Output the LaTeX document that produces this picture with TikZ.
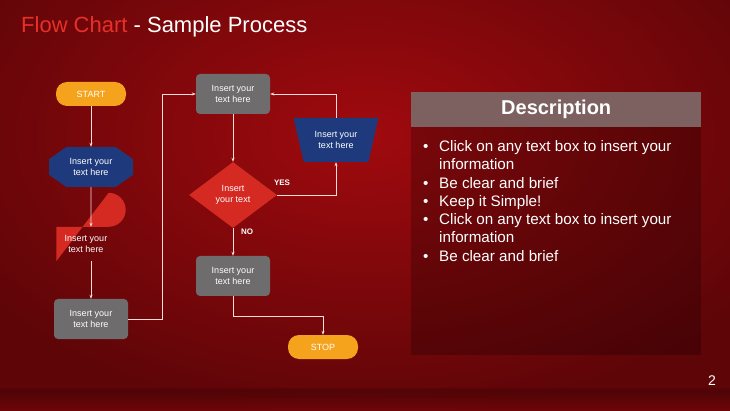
\documentclass[tikz,border=0pt]{standalone}
\usepackage{fontspec}
\setmainfont{Liberation Sans}
\usetikzlibrary{shapes.geometric,shapes.misc,arrows.meta}
\definecolor{bgdark}{HTML}{5E0508}
\definecolor{bgmid}{HTML}{A00A0E}
\definecolor{orng}{HTML}{F5A21C}
\definecolor{navy}{HTML}{1E3A7C}
\definecolor{rd}{HTML}{D42A22}
\definecolor{gry}{HTML}{6E6C6C}
\definecolor{ttl}{HTML}{E8302A}
\begin{document}
\begin{tikzpicture}[x=1pt,y=-1pt,
  txt/.style={text=white,font=\fontsize{9}{11}\selectfont,align=center},
  pill/.style={txt,fill=orng,rounded corners=11pt,minimum width=70pt,minimum height=24pt,inner sep=0pt},
  gbox/.style={txt,fill=gry,rounded corners=4pt,minimum width=74pt,minimum height=40pt,inner sep=0pt},
  conn/.style={draw=white!85!red,line width=0.6pt,-{Stealth[length=4pt,width=3pt]}},
  lbl/.style={text=white,font=\bfseries\fontsize{8}{10}\selectfont}]
\useasboundingbox (0,0) rectangle (730,411);
% background
\fill[bgdark] (0,0) rectangle (730,411);
\shade[inner color=bgmid,outer color=bgdark] (-100,-150) rectangle (830,420);
\fill[bgdark!70!black,opacity=0.35] (0,388) rectangle (730,411);
\shade[top color=bgdark!80!black,bottom color=bgmid!80!black,opacity=0.6] (0,390) rectangle (730,411);
% title
\node[anchor=west,font=\fontsize{22}{26}\selectfont,inner sep=0pt] (title) at (21,27) {\textcolor{ttl}{Flow Chart}\textcolor{white}{\ - Sample Process}};
% left column
\node[pill] (start) at (91,94) {START};
\node[txt,chamfered rectangle,chamfered rectangle xsep=14pt,chamfered rectangle angle=55,fill=navy,minimum width=84pt,minimum height=40pt,inner sep=0pt] (hex) at (91,167) {Insert your\\text here};
\node[txt,minimum width=69pt,minimum height=34pt,inner sep=0pt] (delay) at (91,244) {};
\fill[rd] (delay.north west) -- ([xshift=-17pt]delay.north east) arc[start angle=-90,end angle=90,radius=17pt] -- (delay.south west) -- cycle;
\node[txt] (delaytext) at ([xshift=-5pt]delay.center) {Insert your\\text here};
\node[gbox] (g1) at (91,319) {Insert your\\text here};
% middle column
\node[gbox] (g2) at (233,94) {Insert your\\text here};
\node[txt,diamond,fill=rd,minimum width=88pt,minimum height=66pt,aspect=1.33,inner sep=0pt] (dia) at (233,195) {Insert\\your text};
\node[txt,trapezium,shape border rotate=180,trapezium stretches=true,trapezium left angle=69,trapezium right angle=69,fill=navy,minimum width=85pt,minimum height=44pt,inner sep=0pt] (trap) at (336,140) {Insert your\\text here};
\node[gbox] (g3) at (233,276) {Insert your\\text here};
\node[pill] (stop) at (323,347) {STOP};
% connectors
\draw[conn] (start) -- (hex);
\draw[conn] (hex) -- (delay);
\draw[conn] (delay) -- (g1);
\draw[conn] (g1.east) -- (162,319) -- (162,94) -- (g2.west);
\draw[conn] (g2) -- (dia);
\draw[conn] (dia.east) -| (trap.south);
\draw[conn] (trap.north) |- (g2.east);
\draw[conn] (dia) -- (g3);
\draw[conn] (g3.south) -- (233,316) -| (stop.north);
\node[lbl] (yes) at (282,183) {YES};
\node[lbl] (no) at (247,232) {NO};
% description panel
\fill[black,opacity=0.22] (411,127) rectangle (701,355);
\node[fill=gry!90!red,minimum width=290pt,minimum height=35pt,inner sep=0pt,anchor=north west,text=white,font=\bfseries\fontsize{20}{24}\selectfont] (desc) at (411,92) {Description};
\begin{scope}[every node/.style={anchor=base west,text=white,font=\fontsize{15.2}{18}\selectfont,inner sep=0pt}]
\node (b1) at (423,152) {•}; \node (t1) at (439,152) {Click on any text box to insert your};
\node (t1b) at (439,170) {information};
\node (b2) at (423,189) {•}; \node (t2) at (439,189) {Be clear and brief};
\node (b3) at (423,207) {•}; \node (t3) at (439,207) {Keep it Simple!};
\node (b4) at (423,225) {•}; \node (t4) at (439,225) {Click on any text box to insert your};
\node (t4b) at (439,243) {information};
\node (b5) at (423,262) {•}; \node (t5) at (439,262) {Be clear and brief};
\end{scope}
\node[text=white,font=\fontsize{14}{16}\selectfont] (pg) at (712,381) {2};
\end{tikzpicture}
\end{document}
